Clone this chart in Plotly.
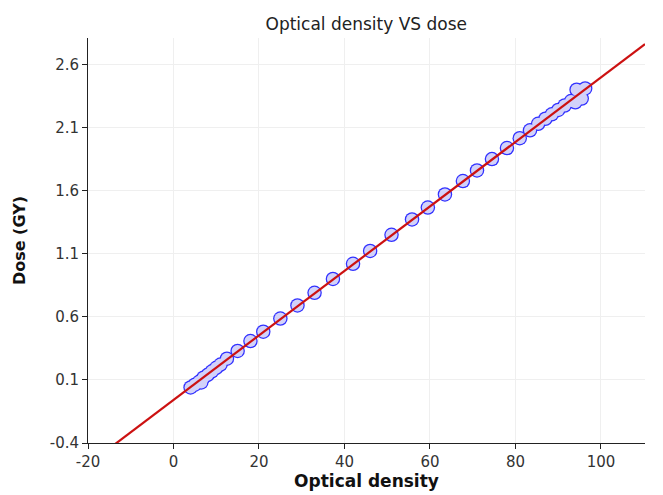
import numpy as np
import plotly.graph_objects as go

# Measured points (optical density, dose)
optical_density = [4.0, 5.0, 6.0, 6.5, 7.0, 8.0, 9.0, 10.0, 11.0, 12.5, 15.0, 18.0, 21.0,
                   25.0, 29.0, 33.0, 37.3, 42.0, 46.0, 51.0, 55.8, 59.5, 63.5, 67.7,
                   71.0, 74.5, 78.0, 81.0, 83.4, 85.3, 87.0, 88.5, 90.0, 91.5, 93.0,
                   94.0, 94.3, 95.5, 96.3, 95.0]
dose = [0.040, 0.062, 0.085, 0.080, 0.118, 0.140, 0.168, 0.196, 0.222, 0.268, 0.330, 0.408, 0.482,
        0.586, 0.690, 0.790, 0.900, 1.020, 1.122, 1.250, 1.372, 1.466, 1.570, 1.676,
        1.760, 1.850, 1.938, 2.016, 2.078, 2.130, 2.170, 2.205, 2.240, 2.275, 2.310,
        2.300, 2.400, 2.330, 2.410, 2.380]

# Fitted line from the data
slope, intercept = np.polyfit(optical_density, dose, 1)
fit_x = np.array([-20.0, 110.3])
fit_y = slope * fit_x + intercept

x_ticks = [-20, 0, 20, 40, 60, 80, 100]
x_ticktext = ["-20", "0", "20", "40", "60", "80", "100"]
y_ticks = [-0.4, 0.1, 0.6, 1.1, 1.6, 2.1, 2.6]
y_ticktext = ["-0.4", "0.1", "0.6", "1.1", "1.6", "2.1", "2.6"]

fig = go.Figure()
# outline layer (union outline effect)
fig.add_trace(go.Scatter(x=optical_density, y=dose, mode="markers",
                         marker=dict(size=14.5, color="#3030ff", line=dict(width=0)),
                         hoverinfo="skip", showlegend=False))
# fill layer
fig.add_trace(go.Scatter(x=optical_density, y=dose, mode="markers",
                         marker=dict(size=12, color="#d2d2fa", line=dict(width=0)),
                         showlegend=False))
fig.add_trace(go.Scatter(x=fit_x, y=fit_y, mode="lines",
                         line=dict(color="#cc1111", width=2.2), showlegend=False))

axis_font = dict(family="DejaVu Sans", size=15, color="#333333")
fig.update_layout(
    width=663, height=495,
    margin=dict(l=88, r=18, t=38, b=52),
    paper_bgcolor="white", plot_bgcolor="white",
    title=dict(text="Optical density VS dose", x=0.5525, xanchor="center",
               y=0.952, yanchor="middle",
               font=dict(family="DejaVu Sans", size=17, color="#222222")),
    xaxis=dict(range=[-20, 110.3], tickvals=x_ticks, ticktext=x_ticktext,
               ticks="outside", ticklen=5,
               tickcolor="#222222", showline=True, linecolor="#222222", linewidth=1,
               showgrid=True, gridcolor="#efefef", zeroline=False,
               tickfont=axis_font,
               title=dict(text="<b>Optical density</b>", standoff=0,
                          font=dict(family="DejaVu Sans", size=17, color="#111111"))),
    yaxis=dict(range=[-0.4, 2.81], tickvals=y_ticks, ticktext=y_ticktext,
               ticks="outside", ticklen=5,
               tickcolor="#222222", showline=True, linecolor="#222222", linewidth=1,
               showgrid=True, gridcolor="#efefef", zeroline=False,
               tickfont=axis_font,
               title=dict(text="<b>Dose (GY)</b>", standoff=20,
                          font=dict(family="DejaVu Sans", size=16, color="#111111"))),
)

fig.write_html("out.html")
